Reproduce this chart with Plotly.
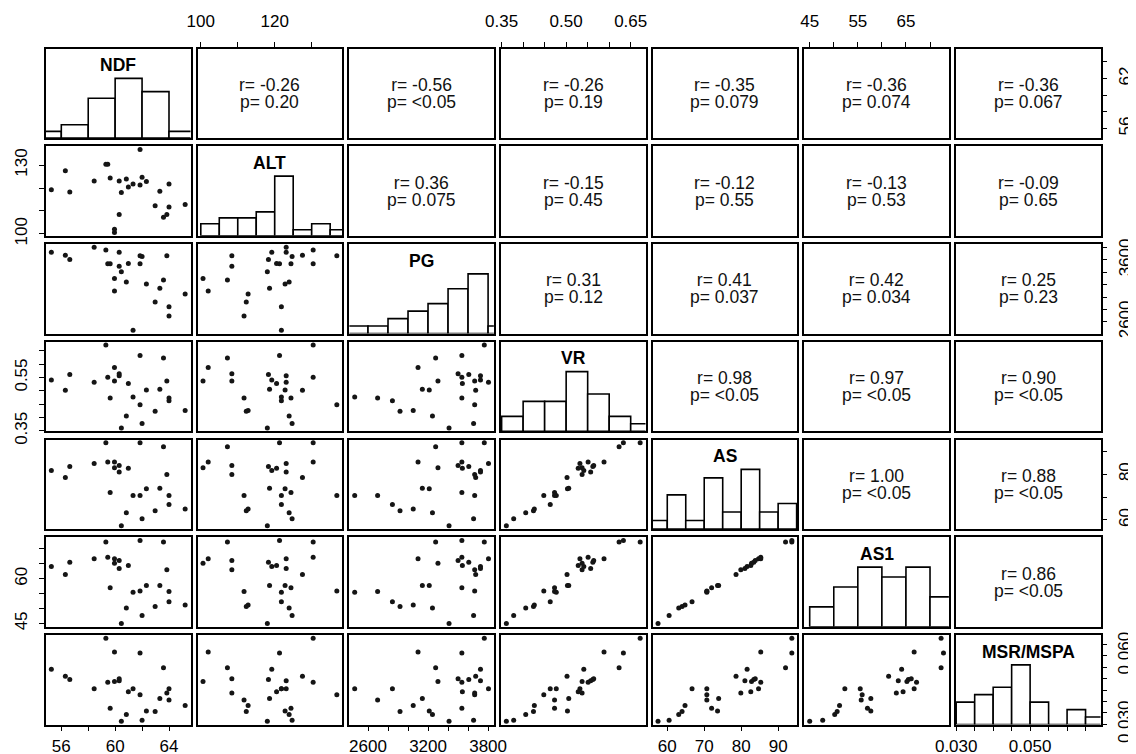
import plotly.graph_objects as go

var_names = ["NDF", "ALT", "PG", "VR", "AS", "AS1", "MSR/MSPA"]

ndf = [55.26, 56.3, 56.63, 58.44, 59.31, 59.45, 59.63, 59.95, 59.95, 60.3, 60.3, 60.46, 60.83,
       60.98, 61.85, 62.0, 61.85, 61.33, 62.32, 63.32, 62.97, 63.59, 63.84, 64.0, 64.0, 65.2]
alt = [119.2, 127.5, 118.3, 123.1, 130.4, 130.4, 124.4, 100.6, 102.0, 123.1, 108.4, 118.0, 123.9,
       120.5, 121.3, 124.7, 136.8, 121.8, 122.8, 118.6, 112.3, 107.2, 108.4, 121.8, 111.7, 112.8]
pg = [3724, 3676, 3607, 3804, 3762, 3538, 3538, 3299, 3100, 3724, 3500, 3410, 3244,
      3543, 3538, 3655, 3666, 2467, 3212, 3143, 2920, 3276, 3666, 2844, 2696, 3052]
vr = [0.541, 0.502, 0.562, 0.532, 0.672, 0.551, 0.473, 0.537, 0.588, 0.557, 0.564, 0.361, 0.406,
      0.528, 0.633, 0.378, 0.448, 0.477, 0.503, 0.506, 0.424, 0.623, 0.537, 0.463, 0.473, 0.426]
as_ = [81.6, 78.6, 83.4, 84.7, 93.7, 85.3, 72.0, 82.8, 85.3, 81.0, 83.8, 57.5, 63.1,
       82.6, 93.7, 60.5, 70.7, 70.7, 73.6, 73.9, 64.0, 92.0, 79.9, 66.7, 70.7, 64.8]
as1 = [64.1, 61.4, 65.5, 66.7, 72.3, 67.2, 57.0, 65.2, 66.7, 63.4, 66.1, 45.0, 50.2,
       64.4, 72.8, 47.7, 55.9, 55.5, 57.7, 57.7, 50.7, 72.3, 63.0, 52.3, 55.7, 51.2]
msr = [0.0541, 0.0510, 0.0496, 0.0456, 0.0676, 0.0484, 0.0371, 0.0487, 0.0616, 0.0491, 0.0499,
       0.0314, 0.0343, 0.0443, 0.0612, 0.0318, 0.0430, 0.0456, 0.0359, 0.0413, 0.0356, 0.0547,
       0.0437, 0.0456, 0.0406, 0.0382]
data = [ndf, alt, pg, vr, as_, as1, msr]

# histogram breaks
breaks = [
    [54, 56, 58, 60, 62, 64, 66],
    [100, 105, 110, 115, 120, 125, 130, 135, 140],
    [2400, 2600, 2800, 3000, 3200, 3400, 3600, 3800, 4000],
    [0.35, 0.40, 0.45, 0.50, 0.55, 0.60, 0.65, 0.70],
    [55, 60, 65, 70, 75, 80, 85, 90, 95],
    [45, 50, 55, 60, 65, 70, 75],
    [0.030, 0.035, 0.040, 0.045, 0.050, 0.055, 0.060, 0.065, 0.070],
]

# axis ticks and labels
tick_vals = [
    [56, 58, 60, 62, 64],
    [100, 110, 120, 130],
    [2600, 2800, 3000, 3200, 3400, 3600, 3800],
    [0.35, 0.40, 0.45, 0.50, 0.55, 0.60, 0.65],
    [60, 70, 80, 90],
    [45, 50, 55, 60, 65, 70],
    [0.030, 0.035, 0.040, 0.045, 0.050, 0.055, 0.060, 0.065],
]
x_tick_text = [
    ["56", "", "60", "", "64"],
    ["100", "", "120", ""],
    ["2600", "", "", "3200", "", "", "3800"],
    ["0.35", "", "", "0.50", "", "", "0.65"],
    ["60", "70", "80", "90"],
    ["45", "", "55", "", "65", ""],
    ["0.030", "", "", "", "0.050", "", "", ""],
]
y_tick_text = [
    ["56", "", "", "62", ""],
    ["100", "", "", "130"],
    ["2600", "", "", "", "", "3600", ""],
    ["0.35", "", "", "", "0.55", "", ""],
    ["60", "", "80", ""],
    ["45", "", "", "60", "", ""],
    ["0.030", "", "", "", "", "", "0.060", ""],
]

# correlation text (upper panels), row-major for i<j
r_text = ["-0.26", "-0.56", "-0.26", "-0.35", "-0.36", "-0.36",
          "0.36", "-0.15", "-0.12", "-0.13", "-0.09",
          "0.31", "0.41", "0.42", "0.25",
          "0.98", "0.97", "0.90",
          "1.00", "0.88",
          "0.86"]
p_text = ["0.20", "<0.05", "0.19", "0.079", "0.074", "0.067",
          "0.075", "0.45", "0.55", "0.53", "0.65",
          "0.12", "0.037", "0.034", "0.23",
          "<0.05", "<0.05", "<0.05",
          "<0.05", "<0.05",
          "<0.05"]

# ---------------- layout geometry ----------------
W, H = 1136, 754
OFF = 8.0          # the page body adds an 8px margin; compensate for it
N = 7
COL0, COLP, PW = 46.0, 151.67, 144.5
ROW0, ROWP, PH = 48.5, 97.75, 89.5
FONT = "Liberation Sans, Arial, Helvetica, sans-serif"


def col_px(j):
    x0 = COL0 + COLP * j - OFF
    return x0, x0 + PW


def row_px(i):
    y0 = ROW0 + ROWP * i - OFF
    return y0, y0 + PH


def rng(v):
    lo, hi = min(v), max(v)
    d = hi - lo
    return [lo - 0.04 * d, hi + 0.04 * d]


ranges = [rng(v) for v in data]


def r_hist(vals, br):
    counts = []
    for k in range(len(br) - 1):
        a, b = br[k], br[k + 1]
        c = 0
        for v in vals:
            if (v > a or (k == 0 and v >= a)) and v <= b + 1e-12:
                c += 1
        counts.append(c)
    return counts


fig = go.Figure()
layout = dict(width=W, height=H, margin=dict(l=0, r=0, t=0, b=0, pad=0), autosize=False,
              template="none",
              paper_bgcolor="white", plot_bgcolor="white", showlegend=False,
              font=dict(family=FONT, size=16, color="black"))
annotations = []

LW = 1.6
tick_font = dict(family=FONT, size=17, color="black")
pair_idx = 0
for i in range(N):
    for j in range(N):
        k = i * N + j + 1
        x0, x1 = col_px(j)
        y0, y1 = row_px(i)
        xa = dict(domain=[x0 / W, x1 / W], range=ranges[j], anchor="y%d" % k,
                  showline=True, mirror=True, linecolor="black", linewidth=LW,
                  showgrid=False, zeroline=False, ticks="", showticklabels=False,
                  fixedrange=True, automargin=False)
        ya = dict(domain=[1 - y1 / H, 1 - y0 / H],
                  range=[0, 1.5] if i == j else ranges[i], anchor="x%d" % k,
                  showline=True, mirror=True, linecolor="black", linewidth=LW,
                  showgrid=False, zeroline=False, ticks="", showticklabels=False,
                  fixedrange=True, automargin=False)
        if i == 0 and j in (1, 3, 5):
            xa.update(side="top", ticks="outside", ticklen=5, tickwidth=1, tickcolor="black",
                      showticklabels=True, tickvals=tick_vals[j], ticktext=x_tick_text[j],
                      tickfont=tick_font, ticklabelstandoff=8)
        if i == N - 1 and j in (0, 2, 4, 6):
            xa.update(side="bottom", ticks="outside", ticklen=5, tickwidth=1, tickcolor="black",
                      showticklabels=True, tickvals=tick_vals[j], ticktext=x_tick_text[j],
                      tickfont=tick_font, ticklabelstandoff=0)
        if j == 0 and i in (1, 3, 5):
            ya.update(side="left", ticks="outside", ticklen=5, tickwidth=1, tickcolor="black",
                      showticklabels=True, tickvals=tick_vals[i], ticktext=y_tick_text[i],
                      tickfont=tick_font, tickangle=-90, ticklabelstandoff=5)
        if j == N - 1 and i in (0, 2, 4):
            ya.update(side="right", ticks="outside", ticklen=5, tickwidth=1, tickcolor="black",
                      showticklabels=True, tickvals=tick_vals[i], ticktext=y_tick_text[i],
                      tickfont=tick_font, tickangle=-90, ticklabelstandoff=3)
        layout["xaxis%d" % k] = xa
        layout["yaxis%d" % k] = ya

        if i > j:
            fig.add_trace(go.Scatter(x=data[j], y=data[i], mode="markers",
                                     marker=dict(size=5, color="#151515", line=dict(width=0)),
                                     xaxis="x%d" % k, yaxis="y%d" % k, hoverinfo="skip",
                                     cliponaxis=True))
        elif i == j:
            br = breaks[i]
            cnt = r_hist(data[i], br)
            mx = max(cnt)
            centers = [(br[t] + br[t + 1]) / 2 for t in range(len(br) - 1)]
            widths = [br[t + 1] - br[t] for t in range(len(br) - 1)]
            heights = [c / mx for c in cnt]
            fig.add_trace(go.Bar(x=centers, y=heights, width=widths,
                                 marker=dict(color="white", line=dict(color="black", width=1.6)),
                                 xaxis="x%d" % k, yaxis="y%d" % k, hoverinfo="skip"))
            annotations.append(dict(x=(x0 + x1) / 2 / W, y=1 - (y0 + 16.5) / H,
                                    xref="paper", yref="paper", text="<b>%s</b>" % var_names[i],
                                    showarrow=False, xanchor="center", yanchor="middle",
                                    font=dict(family=FONT, size=17.5, color="black")))
        else:
            fig.add_trace(go.Scatter(x=[None], y=[None], mode="markers",
                                     xaxis="x%d" % k, yaxis="y%d" % k, hoverinfo="skip"))
            cx = (x0 + x1) / 2 / W
            cy = 1 - (y0 + y1) / 2 / H
            txt = ('<span style="font-size:17.5px">r= %s</span><br>'
                   '<span style="font-size:17.5px">p= %s</span>' % (r_text[pair_idx], p_text[pair_idx]))
            annotations.append(dict(x=cx, y=cy, xref="paper", yref="paper",
                                    text=txt, showarrow=False,
                                    xanchor="center", yanchor="middle", yshift=0,
                                    font=dict(family=FONT, size=12.8, color="#111111")))
            pair_idx += 1

# extra right-hand axis for the bottom-right histogram panel (MSR/MSPA scale)
kk = N * N
layout["yaxis%d" % (kk + 1)] = dict(overlaying="y%d" % kk, anchor="x%d" % kk, side="right",
                                    range=ranges[N - 1], showline=False, showgrid=False,
                                    zeroline=False, ticks="outside", ticklen=5, tickwidth=1,
                                    tickcolor="black", tickvals=tick_vals[N - 1],
                                    ticktext=y_tick_text[N - 1], tickfont=tick_font,
                                    tickangle=-90, ticklabelstandoff=3, fixedrange=True,
                                    automargin=False)
fig.add_trace(go.Scatter(x=[None], y=[None], mode="markers", xaxis="x%d" % kk,
                         yaxis="y%d" % (kk + 1), hoverinfo="skip"))

layout["annotations"] = annotations
fig.update_layout(**layout)
fig.write_html("out.html")
